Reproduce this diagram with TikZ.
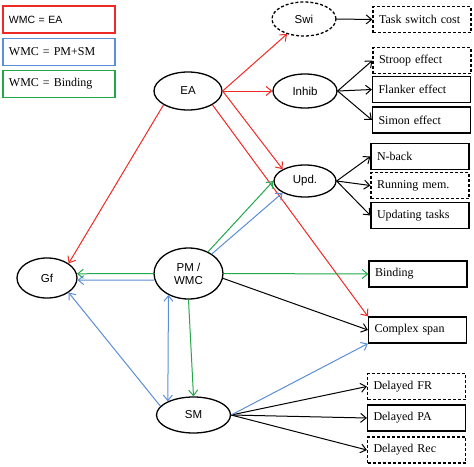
\documentclass[tikz,border=0pt]{standalone}
\usepackage{fontspec}
\setmainfont{Liberation Serif}
\setsansfont{Liberation Sans}
\usepackage{xcolor}
\usepackage{tikz}
\usetikzlibrary{arrows.meta,shapes.geometric}
\definecolor{wmcred}{HTML}{EE2A24}
\definecolor{wmcblue}{HTML}{5B8ED6}
\definecolor{wmcgreen}{HTML}{22A84A}
\tikzset{
  construct/.style={
    ellipse, draw=black, line width=1.3pt,
    inner sep=0pt, align=center,
    font=\fontsize{11.5}{13}\selectfont\sffamily
  },
  taskbox/.style={
    rectangle, draw=black, line width=1.2pt,
    minimum width=98pt, minimum height=26pt,
    text width=86pt, inner xsep=6pt, inner ysep=0pt,
    align=left, font=\fontsize{12}{14}\selectfont
  },
  dashbox/.style={
    taskbox, dash pattern=on 3pt off 2pt
  },
  legendbox/.style={
    rectangle, draw=#1, line width=1.1pt,
    minimum width=112pt, minimum height=27pt,
    text width=100pt, inner xsep=6pt, inner ysep=0pt,
    align=left, font=\fontsize{12}{14}\selectfont
  },
  legendbox/.default=black,
  link/.style={
    -{Straight Barb[length=5.5pt,width=9pt]}, line width=1pt, draw=#1
  },
  link/.default=black,
  bilink/.style={
    {Straight Barb[length=5.5pt,width=9pt]}-{Straight Barb[length=5.5pt,width=9pt]},
    line width=1pt, draw=#1
  },
  bilink/.default=black,
}

\begin{document}
\begin{tikzpicture}[x=1pt,y=-1pt]
  \useasboundingbox (0,0) rectangle (474,466);

  \node[legendbox=wmcred, font=\fontsize{10.5}{12}\selectfont\sffamily] (legea) at (59,19.5) {WMC = EA};
  \node[legendbox=wmcblue] (legpmsm) at (59,52) {WMC = PM+SM};
  \node[legendbox=wmcgreen] (legbind) at (59,84) {WMC = Binding};

  \node[construct, minimum width=68pt, minimum height=38pt] (ea) at (188,91) {EA};
  \node[construct, minimum width=64pt, minimum height=34pt, dash pattern=on 3pt off 2pt] (swi) at (304,19) {Swi};
  \node[construct, minimum width=64pt, minimum height=34pt] (inhib) at (305,91) {Inhib};
  \node[construct, minimum width=62pt, minimum height=32pt] (upd) at (305,181) {Upd.};
  \node[construct, minimum width=60pt, minimum height=40pt] (gf) at (47,278) {Gf};
  \node[construct, minimum width=69pt, minimum height=51pt] (pmwmc) at (188.5,273.5) {PM /\\WMC};
  \node[construct, minimum width=74pt, minimum height=36pt] (sm) at (193.5,415) {SM};

  \node[dashbox] (taskswitch) at (422,19.5) {Task switch cost};
  \node[dashbox] (stroop) at (422,60.5) {Stroop effect};
  \node[taskbox] (flanker) at (421.5,89.5) {Flanker effect};
  \node[taskbox] (simon) at (421.5,120) {Simon effect};
  \node[taskbox] (nback) at (420,156.5) {N-back};
  \node[dashbox] (running) at (420,185.5) {Running mem.};
  \node[taskbox] (updating) at (420,215.5) {Updating tasks};
  \node[taskbox] (binding) at (418,274) {Binding};
  \node[taskbox] (complexspan) at (417.5,330) {Complex span};
  \node[dashbox] (delfr) at (416.5,386.5) {Delayed FR};
  \node[taskbox] (delpa) at (416.5,418) {Delayed PA};
  \node[dashbox] (delrec) at (416.5,450) {Delayed Rec};

  \draw[link=wmcred] (ea.south west) -- (gf.north east);
  \draw[link=wmcred] (ea.east) -- (swi);
  \draw[link=wmcred] (ea.east) -- (inhib.west);
  \draw[link=wmcred] (ea.east) -- (upd.north west);
  \draw[link=wmcred] (ea.south east) -- (complexspan.north west);

  \draw[link] (swi.east) -- (taskswitch.west);
  \draw[link] (inhib.east) -- (stroop.west);
  \draw[link] (inhib.east) -- (flanker.west);
  \draw[link] (inhib.east) -- (simon.west);
  \draw[link] (upd.east) -- (nback.west);
  \draw[link] (upd.east) -- (running.west);
  \draw[link] (upd.east) -- (updating.west);
  \draw[link] (pmwmc.-8) -- (complexspan.west);
  \draw[link] (sm.east) -- (delfr.west);
  \draw[link] (sm.east) -- (delpa.west);
  \draw[link] (sm.east) -- (delrec.west);

  \draw[link=wmcgreen] (pmwmc.west) -- (gf.8);
  \draw[link=wmcgreen] (pmwmc.48) -- (upd.west);
  \draw[link=wmcgreen] (pmwmc.east) -- (binding.west);
  \draw[link=wmcgreen] (pmwmc.south) -- (sm.north);

  \draw[link=wmcblue] (pmwmc.191) -- (gf.-4);
  \draw[link=wmcblue] (pmwmc.40) -- (upd.south west);
  \draw[bilink=wmcblue] (pmwmc.227) -- (sm.152);
  \draw[link=wmcblue] (sm.165) -- (gf.south east);
  \draw[link=wmcblue] (sm.east) -- (complexspan.south west);
\end{tikzpicture}
\end{document}
